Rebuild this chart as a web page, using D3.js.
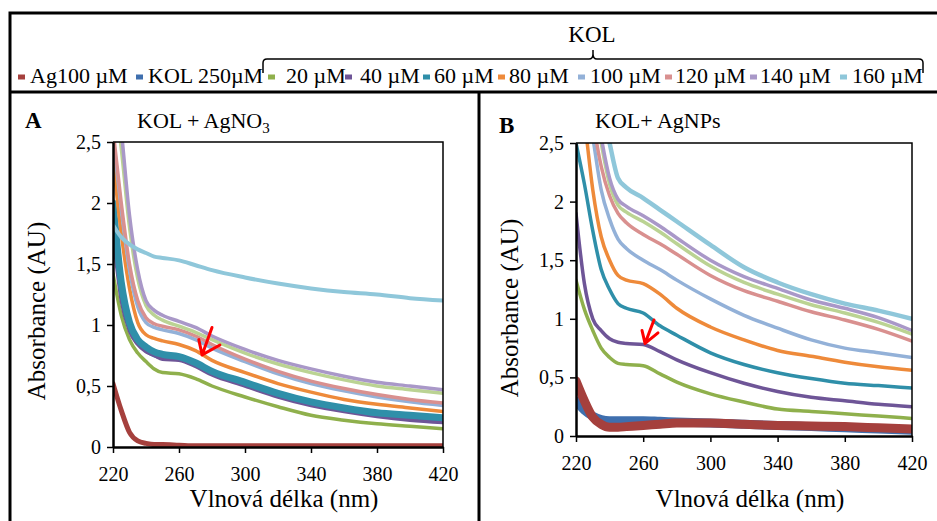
<!DOCTYPE html>
<html>
<head>
<meta charset="utf-8">
<script src="https://cdn.jsdelivr.net/npm/d3@7"></script>
<style>
  html, body { margin: 0; padding: 0; background: #fff; }
  svg { display: block; }
  svg text { font-family: "Liberation Serif", serif; }
</style>
</head>
<body>
<svg id="chart" width="937" height="521" font-family="Liberation Serif"></svg>
<script>
// wavelengths (nm) shared by every spectrum
var wl = [220, 225, 230, 235, 240, 245, 250, 260, 270, 280, 300, 320, 340, 360, 380, 400, 420];

// panel A : KOL + AgNO3
var agA    = [0.52, 0.30, 0.12, 0.05, 0.03, 0.02, 0.02, 0.015, 0.01, 0.01, 0.01, 0.01, 0.01, 0.01, 0.01, 0.01, 0.01];
var kolA   = [1.90, 1.30, 0.98, 0.85, 0.79, 0.75, 0.73, 0.72, 0.67, 0.60, 0.51, 0.42, 0.36, 0.31, 0.27, 0.24, 0.22];
var k20A   = [1.42, 1.08, 0.88, 0.77, 0.70, 0.64, 0.61, 0.60, 0.56, 0.50, 0.41, 0.33, 0.26, 0.22, 0.19, 0.17, 0.15];
var k40A   = [1.75, 1.20, 0.95, 0.84, 0.78, 0.75, 0.72, 0.71, 0.66, 0.59, 0.50, 0.41, 0.34, 0.29, 0.25, 0.22, 0.20];
var k60A   = [2.00, 1.35, 1.02, 0.88, 0.82, 0.78, 0.76, 0.74, 0.69, 0.62, 0.53, 0.44, 0.37, 0.32, 0.28, 0.26, 0.24];
var k80A   = [2.36, 1.75, 1.30, 1.02, 0.92, 0.89, 0.87, 0.84, 0.79, 0.71, 0.61, 0.52, 0.45, 0.39, 0.35, 0.32, 0.29];
var k100A  = [2.55, 1.95, 1.45, 1.15, 1.02, 0.98, 0.96, 0.93, 0.88, 0.81, 0.70, 0.60, 0.52, 0.46, 0.41, 0.37, 0.34];
var k120A  = [2.60, 2.00, 1.50, 1.20, 1.06, 1.01, 0.99, 0.96, 0.91, 0.84, 0.72, 0.62, 0.54, 0.48, 0.43, 0.39, 0.36];
var kxA    = [3.00, 2.45, 1.80, 1.38, 1.16, 1.08, 1.04, 0.99, 0.94, 0.88, 0.77, 0.68, 0.61, 0.55, 0.50, 0.47, 0.44];
var k140A  = [3.20, 2.60, 1.90, 1.45, 1.20, 1.12, 1.08, 1.03, 0.98, 0.91, 0.80, 0.71, 0.64, 0.58, 0.53, 0.50, 0.47];
var k160A  = [1.82, 1.72, 1.66, 1.62, 1.59, 1.56, 1.55, 1.53, 1.49, 1.45, 1.39, 1.34, 1.30, 1.27, 1.25, 1.22, 1.20];

// panel B : KOL + AgNPs
var agB    = [0.47, 0.30, 0.16, 0.10, 0.075, 0.075, 0.08, 0.09, 0.10, 0.11, 0.11, 0.10, 0.09, 0.085, 0.08, 0.07, 0.06];
var kolB   = [0.30, 0.22, 0.17, 0.14, 0.13, 0.13, 0.13, 0.13, 0.125, 0.12, 0.11, 0.10, 0.09, 0.08, 0.07, 0.06, 0.05];
var k20B   = [1.33, 1.08, 0.90, 0.75, 0.67, 0.62, 0.61, 0.60, 0.53, 0.46, 0.36, 0.29, 0.23, 0.21, 0.19, 0.17, 0.15];
var k40B   = [1.90, 1.30, 1.00, 0.90, 0.83, 0.80, 0.79, 0.78, 0.72, 0.65, 0.54, 0.45, 0.38, 0.33, 0.30, 0.27, 0.25];
var k60B   = [2.50, 2.15, 1.75, 1.42, 1.25, 1.13, 1.09, 1.05, 0.94, 0.86, 0.71, 0.61, 0.54, 0.49, 0.45, 0.43, 0.41];
var k80B   = [3.20, 2.70, 2.10, 1.70, 1.50, 1.37, 1.33, 1.30, 1.21, 1.09, 0.93, 0.82, 0.73, 0.68, 0.63, 0.59, 0.56];
var k100B  = [3.60, 3.00, 2.55, 2.10, 1.85, 1.68, 1.60, 1.50, 1.42, 1.33, 1.17, 1.03, 0.92, 0.82, 0.75, 0.71, 0.67];
var k120B  = [3.80, 3.20, 2.70, 2.30, 2.05, 1.90, 1.82, 1.72, 1.64, 1.55, 1.37, 1.24, 1.15, 1.06, 0.99, 0.91, 0.81];
var kxB    = [4.10, 3.50, 2.95, 2.50, 2.15, 1.97, 1.91, 1.83, 1.74, 1.64, 1.45, 1.31, 1.21, 1.12, 1.05, 0.97, 0.87];
var k140B  = [4.20, 3.60, 3.00, 2.55, 2.20, 2.02, 1.96, 1.88, 1.79, 1.69, 1.50, 1.36, 1.26, 1.16, 1.09, 1.01, 0.90];
var k160B  = [4.50, 3.90, 3.30, 2.85, 2.50, 2.20, 2.12, 2.03, 1.93, 1.83, 1.63, 1.44, 1.31, 1.21, 1.13, 1.07, 1.00];

// legend
var legendLabels = ["Ag100 \u00b5M", "KOL 250\u00b5M", "20 \u00b5M", "40 \u00b5M", "60 \u00b5M", "80 \u00b5M",
                    "100 \u00b5M", "120 \u00b5M", "140 \u00b5M", "160 \u00b5M"];
var legendColors = ["#a5403d", "#3f6fae", "#8fb04c", "#6e5597", "#2f8fa9", "#ee8a3a",
                    "#93b1d8", "#d9908f", "#a998c8", "#8fc7da"];
var extraColor = "#bbd393";   // series drawn in the plots but missing from the legend

var xTicks = [220, 260, 300, 340, 380, 420];
var yTicks = [0, 0.5, 1, 1.5, 2, 2.5];

// red arrows (wavelength, absorbance): shaft start, tip, two barbs
var arrowA = [[280, 0.98], [274, 0.755], [272, 0.88], [274, 0.755], [284.8, 0.836]];
var arrowB = [[266.4, 0.99], [261.1, 0.79], [259.3, 0.90], [261.1, 0.79], [268.8, 0.88]];

var FONT = "Liberation Serif";
var svg = d3.select("#chart");
var fmt = function(d){ return String(d).replace(".", ","); };

// frame
svg.append("rect").attr("x", 10).attr("y", 13).attr("width", 940).attr("height", 520)
   .attr("fill", "none").attr("stroke", "#000").attr("stroke-width", 3);
svg.append("line").attr("x1", 10).attr("x2", 940).attr("y1", 92).attr("y2", 92)
   .attr("stroke", "#000").attr("stroke-width", 3);
svg.append("line").attr("x1", 479).attr("x2", 479).attr("y1", 92).attr("y2", 530)
   .attr("stroke", "#000").attr("stroke-width", 3);

// legend
var legX = [18, 136, 268, 345, 423, 498, 578, 665, 750, 840];
var legTx = [30, 148, 286, 360, 434, 509, 590, 675, 760, 852];
var leg = svg.append("g");
legendLabels.forEach(function(lab, i){
  leg.append("rect").attr("x", legX[i]).attr("y", 74.5).attr("width", 7).attr("height", 5)
     .attr("fill", legendColors[i]);
  leg.append("text").attr("x", legTx[i]).attr("y", 83).attr("font-family", FONT)
     .attr("font-size", 22).text(lab);
});
// bracket over the KOL concentrations
leg.append("path")
   .attr("d", "M263,73 L263,63 Q263,59 267,59 L589,59 Q593,59 593,54 L593,50 L593,54 Q593,59 597,59 L919,59 Q923,59 923,63 L923,73")
   .attr("fill", "none").attr("stroke", "#000").attr("stroke-width", 1.5);
leg.append("text").attr("x", 592).attr("y", 42).attr("text-anchor", "middle")
   .attr("font-family", FONT).attr("font-size", 23).text("KOL");

function panel(opt){
  var x = d3.scaleLinear().domain([220, 420]).range([opt.left, opt.right]);
  var y = d3.scaleLinear().domain([0, 2.5]).range([opt.bottom, opt.top]);
  var g = svg.append("g");

  g.append("clipPath").attr("id", opt.id)
   .append("rect").attr("x", opt.left).attr("y", opt.top)
   .attr("width", opt.right - opt.left).attr("height", opt.bottom - opt.top);

  var line = d3.line().x(function(d, i){ return x(wl[i]); }).y(function(d){ return y(d); })
               .curve(d3.curveMonotoneX);

  var lines = g.append("g").attr("clip-path", "url(#" + opt.id + ")");
  opt.series.forEach(function(s){
    lines.append("path").attr("d", line(s.v)).attr("fill", "none")
         .attr("stroke", s.c).attr("stroke-width", s.w)
         .attr("stroke-linejoin", "round").attr("stroke-linecap", "round");
  });

  // plot border (top/right thin)
  g.append("path")
   .attr("d", "M" + opt.left + "," + opt.top + "H" + opt.right + "V" + opt.bottom)
   .attr("fill", "none").attr("stroke", "#000").attr("stroke-width", 1.5);

  var ax = g.append("g").attr("transform", "translate(0," + opt.bottom + ")")
            .call(d3.axisBottom(x).tickValues(xTicks).tickSize(6).tickSizeOuter(0).tickPadding(14));
  var ay = g.append("g").attr("transform", "translate(" + opt.left + ",0)")
            .call(d3.axisLeft(y).tickValues(yTicks).tickFormat(fmt).tickSize(6).tickSizeOuter(0).tickPadding(6));
  [ax, ay].forEach(function(a){
    a.attr("font-family", FONT);
    a.select(".domain").attr("stroke-width", 2.5);
    a.selectAll(".tick line").attr("stroke-width", 1.5);
    a.selectAll("text").attr("font-family", FONT).attr("font-size", 20).attr("fill", "#000");
  });

  // arrow
  var ar = opt.arrow;
  g.append("path")
   .attr("d", "M" + x(ar[0][0]) + "," + y(ar[0][1]) + "L" + x(ar[1][0]) + "," + y(ar[1][1]) +
              "M" + x(ar[2][0]) + "," + y(ar[2][1]) + "L" + x(ar[3][0]) + "," + y(ar[3][1]) +
              "L" + x(ar[4][0]) + "," + y(ar[4][1]))
   .attr("fill", "none").attr("stroke", "#ff0000").attr("stroke-width", 3)
   .attr("stroke-linecap", "round").attr("stroke-linejoin", "round");

  // titles
  g.append("text").attr("x", (opt.left + opt.right) / 2 + 6).attr("y", 507)
   .attr("text-anchor", "middle").attr("font-family", FONT).attr("font-size", 25)
   .text("Vlnová délka (nm)");
  g.append("text").attr("transform", "translate(" + opt.ytx + "," + opt.yty + ") rotate(-90)")
   .attr("text-anchor", "middle").attr("font-family", FONT).attr("font-size", 25)
   .text("Absorbance (AU)");
  g.append("text").attr("x", opt.lx).attr("y", opt.ly).attr("font-family", FONT).attr("font-size", 23)
   .attr("font-weight", "bold").text(opt.letter);
  var t = g.append("text").attr("x", opt.tx).attr("y", 128).attr("font-family", FONT).attr("font-size", 22);
  t.append("tspan").text(opt.title);
  if (opt.sub) {
    t.append("tspan").attr("font-size", 15).attr("dy", 5).text(opt.sub);
  }
}

panel({
  id: "clipA", left: 113, right: 443, top: 142, bottom: 447,
  ytx: 45, yty: 311, letter: "A", lx: 25, ly: 128, tx: 137, title: "KOL + AgNO", sub: "3",
  arrow: arrowA,
  series: [
    {v: kolA,  c: legendColors[1], w: 4},
    {v: agA,   c: legendColors[0], w: 5},
    {v: k20A,  c: legendColors[2], w: 3.5},
    {v: k40A,  c: legendColors[3], w: 3.5},
    {v: k60A,  c: legendColors[4], w: 7},
    {v: k80A,  c: legendColors[5], w: 3.5},
    {v: k100A, c: legendColors[6], w: 3.5},
    {v: k120A, c: legendColors[7], w: 3.5},
    {v: kxA,   c: extraColor,      w: 3.5},
    {v: k140A, c: legendColors[8], w: 3.5},
    {v: k160A, c: legendColors[9], w: 4}
  ]
});

panel({
  id: "clipB", left: 576, right: 912, top: 143, bottom: 436,
  ytx: 518, yty: 308, letter: "B", lx: 499, ly: 133, tx: 595, title: "KOL+ AgNPs", sub: null,
  arrow: arrowB,
  series: [
    {v: kolB,  c: legendColors[1], w: 9},
    {v: agB,   c: legendColors[0], w: 9},
    {v: k20B,  c: legendColors[2], w: 3.5},
    {v: k40B,  c: legendColors[3], w: 3.5},
    {v: k60B,  c: legendColors[4], w: 3.5},
    {v: k80B,  c: legendColors[5], w: 3.5},
    {v: k100B, c: legendColors[6], w: 3.5},
    {v: k120B, c: legendColors[7], w: 3.5},
    {v: kxB,   c: extraColor,      w: 3.5},
    {v: k140B, c: legendColors[8], w: 3.5},
    {v: k160B, c: legendColors[9], w: 4.5}
  ]
});
</script>
</body>
</html>
